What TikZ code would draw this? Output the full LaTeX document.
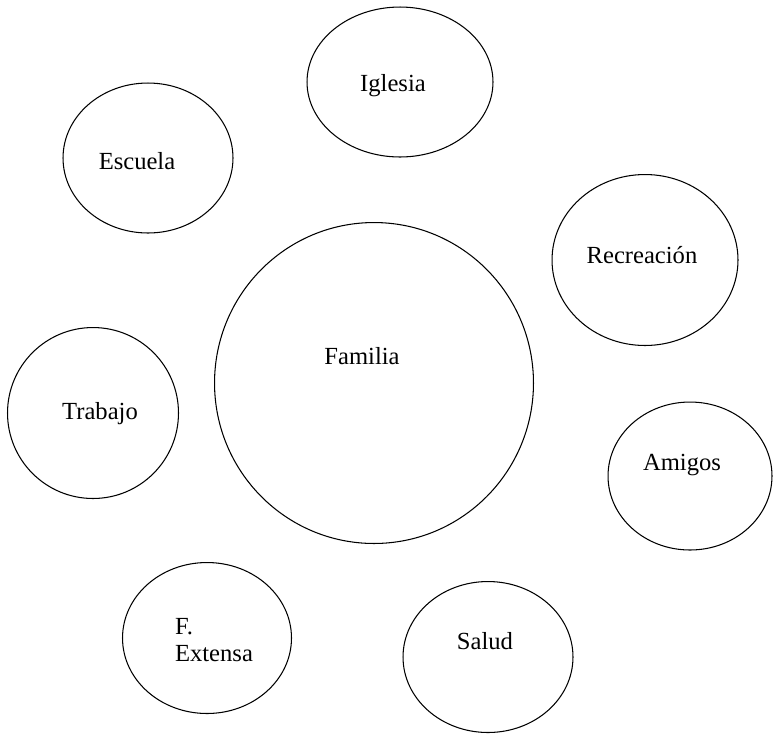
\documentclass[tikz,border=0pt]{standalone}
\usepackage{fontspec}
\setmainfont{Liberation Serif}
\usepackage{tikz}
\usetikzlibrary{shapes.geometric}

\begin{document}
\begin{tikzpicture}[x=0.02cm, y=-0.02cm,
  ring/.style={draw, ellipse, inner sep=0pt, line width=0.6pt},
  lbl/.style={font=\fontsize{14}{15}\selectfont, align=left, inner sep=0pt}]
\useasboundingbox (0,0) rectangle (773,735);
% family in the middle
\node[ring, minimum width=6.38cm, minimum height=6.42cm] (familia) at (374,383) {};
\node[lbl] (familiatxt) at (362,356) {Familia};
% surrounding systems, clockwise from the top
\node[ring, minimum width=3.72cm, minimum height=3.00cm] (iglesia) at (400,82) {};
\node[lbl] (iglesiatxt) at (393,86) {Iglesia};
\node[ring, minimum width=3.72cm, minimum height=3.42cm] (recreacion) at (645,260) {};
\node[lbl] (recreaciontxt) at (642,255) {Recreación};
\node[ring, minimum width=3.28cm, minimum height=2.96cm] (amigos) at (690,476) {};
\node[lbl] (amigostxt) at (682,465) {Amigos};
\node[ring, minimum width=3.40cm, minimum height=3.02cm] (salud) at (488,657) {};
\node[lbl] (saludtxt) at (485,641) {Salud};
\node[ring, minimum width=3.38cm, minimum height=3.02cm] (extensa) at (207,638) {};
\node[lbl] (extensatxt) at (214,640) {F.\\Extensa};
\node[ring, minimum width=3.42cm, minimum height=3.42cm] (trabajo) at (93,413) {};
\node[lbl] (trabajotxt) at (100,414) {Trabajo};
\node[ring, minimum width=3.40cm, minimum height=3.00cm] (escuela) at (148,158) {};
\node[lbl] (escuelatxt) at (137,161) {Escuela};
\end{tikzpicture}
\end{document}
